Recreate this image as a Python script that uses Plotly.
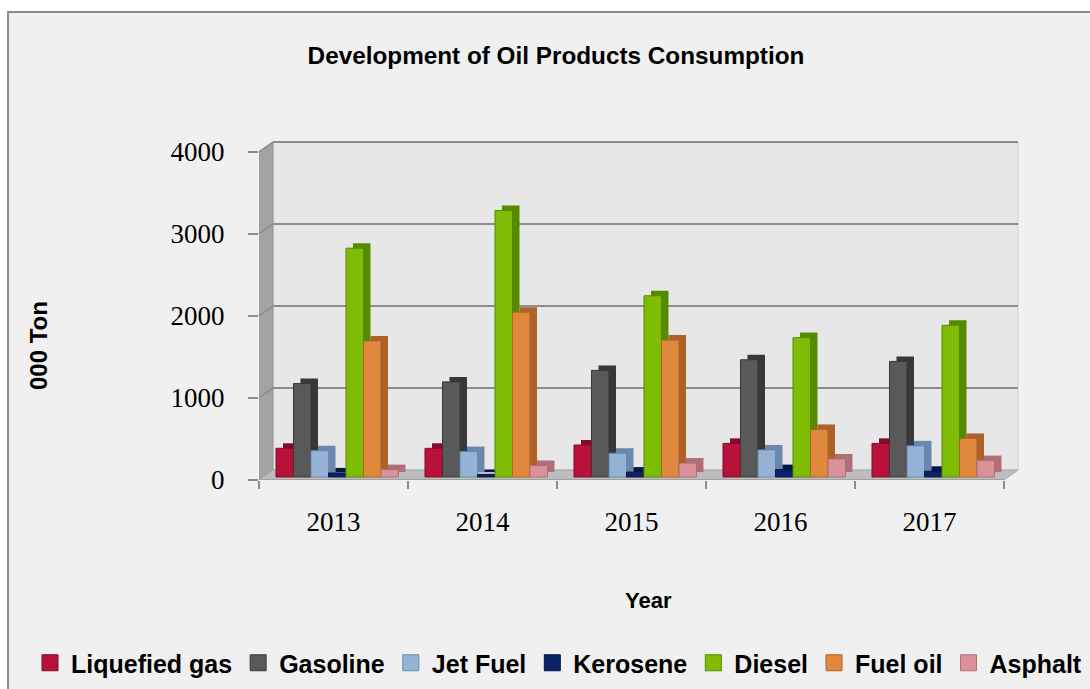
import plotly.graph_objects as go

years = ["2013", "2014", "2015", "2016", "2017"]
series_names = ["Liquefied gas", "Gasoline", "Jet Fuel", "Kerosene", "Diesel", "Fuel oil", "Asphalt"]
liquefied_gas = [350, 350, 390, 410, 410]
gasoline = [1140, 1160, 1300, 1430, 1410]
jet_fuel = [320, 310, 290, 330, 380]
kerosene = [50, 30, 60, 90, 70]
diesel = [2790, 3250, 2210, 1700, 1850]
fuel_oil = [1660, 2010, 1670, 580, 470]
asphalt = [90, 140, 170, 220, 200]
y_ticks = [0, 1000, 2000, 3000, 4000]

series_values = [liquefied_gas, gasoline, jet_fuel, kerosene, diesel, fuel_oil, asphalt]
front_colors = ["#b8113a", "#595959", "#95b3d7", "#0d2266", "#7fbc06", "#e0883c", "#d9929a"]
side_colors = ["#85092a", "#383838", "#6b87ad", "#061546", "#568a00", "#ae6228", "#b06e76"]

# geometry (pixel-derived constants)
PX_PER_UNIT = 0.082
CAT_PX = 149.0
bar_w = 17.5 / CAT_PX
bar_start = -0.386
side_dx = 7.0 / CAT_PX
side_dy = 5.0 / PX_PER_UNIT
bar_base = 3.0 / PX_PER_UNIT
wall_dx = 14.0 / CAT_PX
wall_dy = 10.0 / PX_PER_UNIT

fig = go.Figure()

# depth (side/top) faces
for i, (name, vals) in enumerate(zip(series_names, series_values)):
    fig.add_trace(go.Bar(
        x=years, y=vals, base=bar_base + side_dy,
        offset=bar_start + i * bar_w + side_dx, width=bar_w,
        marker=dict(color=side_colors[i], line=dict(width=0)),
        showlegend=False, hoverinfo="skip",
    ))
# front faces
for i, (name, vals) in enumerate(zip(series_names, series_values)):
    fig.add_trace(go.Bar(
        x=years, y=vals, base=bar_base, name=name,
        offset=bar_start + i * bar_w, width=bar_w,
        marker=dict(color=front_colors[i], line=dict(color=side_colors[i], width=1)),
        showlegend=False,
    ))
# legend entries (square swatches)
for i, name in enumerate(series_names):
    fig.add_trace(go.Scatter(
        x=[None], y=[None], mode="markers", name=name,
        marker=dict(symbol="square", size=16, color=front_colors[i],
                    line=dict(color=side_colors[i], width=1)),
    ))

L, R, T, B = 259, 0, 140, 209
W, H = 1090, 689
pw = W - L - R
ph = H - T - B

def px2x(px):
    return (px - L) / pw

def py2y(py):
    return (H - B - py) / ph

shapes = []
# chart area background with border
shapes.append(dict(type="rect", xref="paper", yref="paper",
                   x0=px2x(8), x1=px2x(1100), y0=py2y(700), y1=py2y(12),
                   fillcolor="#f0f0f0", line=dict(color="#8c8c8c", width=2), layer="below"))
x_left = -0.5
x_right = len(years) - 0.5
top_val = y_ticks[-1]
# back wall
shapes.append(dict(type="rect", xref="x", yref="y",
                   x0=x_left + wall_dx, x1=x_right + wall_dx, y0=wall_dy, y1=top_val + wall_dy,
                   fillcolor="#e7e7e7", line=dict(color="#cfcfcf", width=1), layer="below"))
# side wall
shapes.append(dict(type="path", xref="x", yref="y",
                   path=f"M {x_left},0 L {x_left},{top_val} L {x_left + wall_dx},{top_val + wall_dy} L {x_left + wall_dx},{wall_dy} Z",
                   fillcolor="#a3a3a3", line=dict(color="#959595", width=1), layer="below"))
# floor
shapes.append(dict(type="path", xref="x", yref="y",
                   path=f"M {x_left},0 L {x_right},0 L {x_right + wall_dx},{wall_dy} L {x_left + wall_dx},{wall_dy} Z",
                   fillcolor="#bdbdbd", line=dict(color="#a8a8a8", width=1), layer="below"))
# gridlines on back and side walls
for v in y_ticks[1:]:
    shapes.append(dict(type="line", xref="x", yref="y",
                       x0=x_left + wall_dx, x1=x_right + wall_dx, y0=v + wall_dy, y1=v + wall_dy,
                       line=dict(color="#8c8c8c", width=2), layer="below"))
    shapes.append(dict(type="line", xref="x", yref="y",
                       x0=x_left, x1=x_left + wall_dx, y0=v, y1=v + wall_dy,
                       line=dict(color="#8a8a8a", width=1.5), layer="below"))
# front floor edge
shapes.append(dict(type="line", xref="x", yref="y",
                   x0=x_left, x1=x_right, y0=0, y1=0,
                   line=dict(color="#a0a0a0", width=2), layer="below"))

sans = "Liberation Sans, Arial, sans-serif"
serif = "Liberation Serif, Times New Roman, serif"

fig.update_layout(
    width=W, height=H,
    margin=dict(l=L, r=R, t=T, b=B, autoexpand=False),
    paper_bgcolor="white",
    plot_bgcolor="rgba(0,0,0,0)",
    barmode="overlay",
    shapes=shapes,
    title=dict(text="<b>Development of Oil Products Consumption</b>",
               x=556 / W, xref="container", xanchor="center",
               y=1 - 55 / H, yref="container", yanchor="middle",
               font=dict(family=sans, size=24.3, color="black")),
    xaxis=dict(type="category", range=[x_left, x_left + pw / CAT_PX],
               showgrid=False, showline=False, zeroline=False,
               ticks="outside", tickson="boundaries", ticklen=8, tickcolor="#8c8c8c", tickwidth=2,
               tickfont=dict(family=serif, size=27, color="black"), ticklabelstandoff=23),
    yaxis=dict(range=[0, ph / PX_PER_UNIT], tickvals=y_ticks, showgrid=False, showline=False,
               zeroline=False, ticks="outside", ticklen=10, tickcolor="#8c8c8c", tickwidth=2,
               tickfont=dict(family=serif, size=27, color="black"), ticklabelstandoff=18),
    legend=dict(orientation="h", x=px2x(29), xanchor="left", y=py2y(663), yanchor="middle",
                bgcolor="rgba(0,0,0,0)", font=dict(family=sans, size=25, color="black", weight="bold"),
                traceorder="normal", itemsizing="trace", itemwidth=32),
    annotations=[
        dict(text="<b>Year</b>", xref="paper", yref="paper", x=px2x(648), y=py2y(600),
             xanchor="center", yanchor="middle",
             showarrow=False, font=dict(family=sans, size=22, color="black")),
        dict(text="<b>000 Ton</b>", xref="paper", yref="paper", x=px2x(38), y=py2y(346),
             xanchor="center", yanchor="middle",
             textangle=-90, showarrow=False, font=dict(family=sans, size=24, color="black")),
    ],
)

fig.write_html("out.html", post_script="document.body.style.margin='0px';",
               config={"displayModeBar": False})
